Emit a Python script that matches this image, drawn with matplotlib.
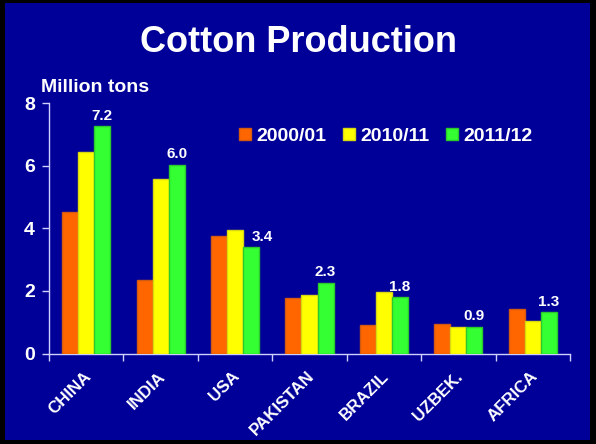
import matplotlib
matplotlib.use("Agg")
import matplotlib.pyplot as plt
import matplotlib.transforms as mtransforms
from matplotlib.patches import Rectangle
import numpy as np

categories = ["CHINA", "INDIA", "USA", "PAKISTAN", "BRAZIL", "UZBEK.", "AFRICA"]
series_names = ["2000/01", "2010/11", "2011/12"]
v2000 = [4.52, 2.36, 3.75, 1.77, 0.91, 0.93, 1.41]
v2010 = [6.44, 5.56, 3.93, 1.87, 1.95, 0.86, 1.04]
v2011 = [7.25, 6.02, 3.39, 2.25, 1.79, 0.86, 1.31]
labels2011 = ["7.2", "6.0", "3.4", "2.3", "1.8", "0.9", "1.3"]

plt.rcParams['font.family'] = ['Liberation Sans', 'DejaVu Sans']
plt.rcParams['font.weight'] = 'bold'

W, H = 596, 444
fig = plt.figure(figsize=(W/100, H/100), dpi=100, facecolor='black')
bg = '#000099'
fig.patches.append(Rectangle((5/W, 4/H), (590-5)/W, (441-4)/H, transform=fig.transFigure,
                             facecolor=bg, edgecolor='none', zorder=-10))

ax = fig.add_axes([49/W, 1-353.5/H, (570-49)/W, (353.5-103)/H])
ax.set_facecolor(bg)

colors = ['#FF6600', '#FFFF00', '#33FF33']
edges = ['#D25A10', '#D8D810', '#2CC82C']
x = np.arange(len(categories))
w = 0.215
for i, (vals, c, e, name) in enumerate(zip([v2000, v2010, v2011], colors, edges, series_names)):
    ax.bar(x + (i-1)*w, vals, width=w, color=c, edgecolor=e, linewidth=1.0, label=name, zorder=3)

# the USA label is nudged right in the original to clear the taller yellow bar
label_shift = {2: 0.15}
for k, (xi, v, lab) in enumerate(zip(x, v2011, labels2011)):
    ax.text(xi + w + label_shift.get(k, 0), v + 0.12, lab, ha='center', va='bottom', color='white',
            fontsize=11, fontweight='bold')

ax.set_xlim(-0.5, len(categories)-0.5)
ax.set_ylim(0, 8)
ax.set_yticks([0, 2, 4, 6, 8])
ax.tick_params(axis='y', colors='#D0D0FF', labelcolor='white', labelsize=14, length=5, width=1, direction='out', pad=5)
ax.set_xticks(x)
ax.set_xticklabels(categories, rotation=45, ha='right', rotation_mode='anchor', color='white', fontsize=12.2, fontweight='bold')
ax.set_xticks(np.arange(-0.5, len(categories)), minor=True)
ax.tick_params(axis='x', which='major', length=0, pad=11)
ax.tick_params(axis='x', which='minor', length=5, width=1, colors='#D0D0FF', direction='out')
off = mtransforms.ScaledTranslation(-3/100, 0, fig.dpi_scale_trans)
for lab in ax.get_xticklabels():
    lab.set_transform(lab.get_transform() + off)
for lab in ax.get_yticklabels():
    lab.set_fontweight('bold')

for s in ['top', 'right']:
    ax.spines[s].set_visible(False)
for s in ['left', 'bottom']:
    ax.spines[s].set_color('#D0D0FF')
    ax.spines[s].set_linewidth(1)

leg = ax.legend(loc='upper right', bbox_to_anchor=(0.962, 0.97), ncol=3, frameon=False,
                handlelength=0.6, handleheight=0.6, handletextpad=0.3,
                columnspacing=0.85, labelcolor='white', prop={'weight': 'bold', 'size': 14})

fig.text(0.5, 1-42.5/H, "Cotton Production", ha='center', va='center', color='white',
         fontsize=26, fontweight='bold')
fig.text(41/W, 1-88/H, "Million tons", ha='left', va='center', color='white',
         fontsize=14, fontweight='bold')

fig.savefig("out.png", dpi=100, facecolor=fig.get_facecolor())
